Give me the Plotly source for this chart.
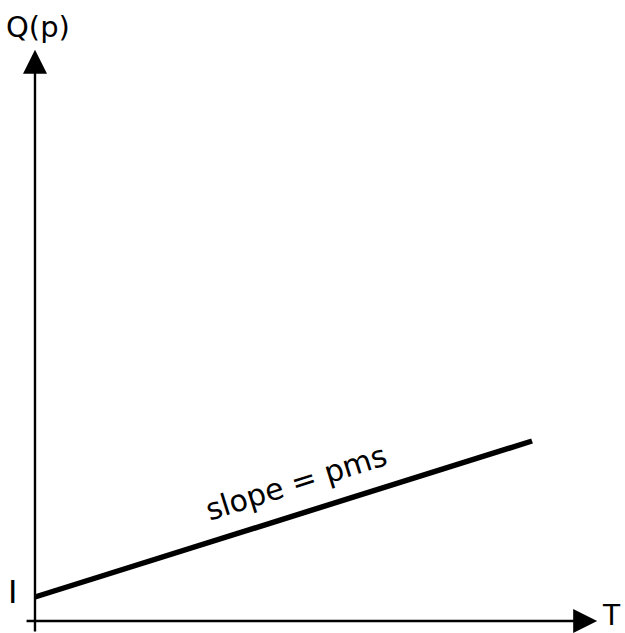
import plotly.graph_objects as go

# Data (in arbitrary T / Q units)
T_vals = [0.0, 10.0]
intercept_I = 1.0
slope_pms = 0.65
Q_vals = [intercept_I + slope_pms * t for t in T_vals]

x_label = "T"
y_label = "Q(p)"
intercept_label = "I"
line_label = "slope = pms"

x_range = [-0.704, 11.87]
y_range = [-0.5, 25.875]

fig = go.Figure()

fig.add_trace(go.Scatter(
    x=T_vals, y=Q_vals, mode="lines",
    line=dict(color="black", width=5.5),
    hoverinfo="skip", showlegend=False,
))

font_family = "DejaVu Sans"

# Axes with arrows
fig.add_annotation(x=11.31, y=0, ax=-0.2, ay=0, xref="x", yref="y", axref="x", ayref="y",
                   showarrow=True, arrowhead=2, arrowsize=2.0, arrowwidth=2.4,
                   arrowcolor="black", text="")
fig.add_annotation(x=0, y=23.8, ax=0, ay=-0.5, xref="x", yref="y", axref="x", ayref="y",
                   showarrow=True, arrowhead=2, arrowsize=2.0, arrowwidth=2.4,
                   arrowcolor="black", text="")

# Labels
fig.add_annotation(x=11.6, y=0.21, xref="x", yref="y", text=x_label, showarrow=False,
                   font=dict(family=font_family, size=28, color="black"),
                   xanchor="center", yanchor="middle", borderpad=0)
fig.add_annotation(x=0.06, y=24.75, xref="x", yref="y", text=y_label, showarrow=False,
                   font=dict(family=font_family, size=29, color="black"),
                   xanchor="center", yanchor="middle")
fig.add_annotation(x=-0.46, y=1.2, xref="x", yref="y", text=intercept_label, showarrow=False,
                   font=dict(family=font_family, size=32, color="black"),
                   xanchor="center", yanchor="middle")
fig.add_annotation(x=5.25, y=5.79, xref="x", yref="y", text=line_label, showarrow=False,
                   textangle=-17.5,
                   font=dict(family=font_family, size=30, color="black"),
                   xanchor="center", yanchor="middle")

fig.update_xaxes(range=x_range, visible=False, fixedrange=True)
fig.update_yaxes(range=y_range, visible=False, fixedrange=True)
fig.update_layout(
    width=625, height=633,
    margin=dict(l=0, r=0, t=0, b=0),
    paper_bgcolor="white", plot_bgcolor="white",
)

fig.write_html("out.html", config={"displayModeBar": False},
               post_script="document.body.style.margin='0';document.body.style.overflow='hidden';")
